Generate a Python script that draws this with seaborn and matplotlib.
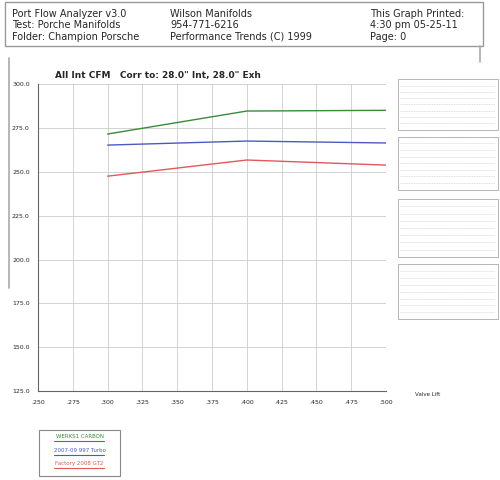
import matplotlib
matplotlib.use("Agg")
import matplotlib.pyplot as plt
import seaborn as sns
import pandas as pd
from matplotlib.patches import Rectangle

lift = [0.300, 0.400, 0.500]
werks = [271.5, 284.6, 285.0]
turbo = [265.2, 267.5, 266.4]
gt2 = [247.5, 256.7, 253.8]
names = ["WERKS1 CARBON", "2007-09 997 Turbo", "Factory 2008 GT2"]
colors = ["#3a8a3a", "#4a5bc0", "#e05a5a"]
xticks = [0.25, 0.275, 0.3, 0.325, 0.35, 0.375, 0.4, 0.425, 0.45, 0.475, 0.5]
yticks = [125, 150, 175, 200, 225, 250, 275, 300]

df = pd.DataFrame({"lift": lift * 3, "cfm": werks + turbo + gt2,
                   "run": sum([[n] * 3 for n in names], [])})

sns.set_style("white")
fig = plt.figure(figsize=(5, 4.8), dpi=100)
ax = fig.add_axes([0.076, 0.185, 0.696, 0.64])
sns.lineplot(data=df, x="lift", y="cfm", hue="run", palette=colors, ax=ax,
             legend=False, linewidth=1)
ax.set_xlim(0.25, 0.5); ax.set_ylim(125, 300)
ax.set_xticks(xticks); ax.set_yticks(yticks)
ax.set_xticklabels([("%.3f" % v)[1:] for v in xticks], fontsize=4.5)
ax.set_yticklabels(["%.1f" % v for v in yticks], fontsize=4.5)
ax.tick_params(length=0, pad=6)
ax.grid(True, color="#cccccc", linewidth=0.6)
for s in ["top", "right"]:
    ax.spines[s].set_visible(False)
for s in ["left", "bottom"]:
    ax.spines[s].set_color("#666666"); ax.spines[s].set_linewidth(0.8)
ax.set_xlabel(""); ax.set_ylabel("")
ax.set_title("All Int CFM   Corr to: 28.0\" Int, 28.0\" Exh", fontsize=6.5,
             fontweight="bold", loc="left", x=0.05, pad=4)
fig.text(0.83, 0.175, "Valve Lift", fontsize=4)

# header box
fig.patches.append(Rectangle((0.01, 0.905), 0.955, 0.09, transform=fig.transFigure,
                             fill=False, edgecolor="#999999", linewidth=1))
hdr = [(0.024, ["Port Flow Analyzer v3.0", "Test: Porche Manifolds", "Folder: Champion Porsche"]),
       (0.34, ["Wilson Manifolds", "954-771-6216", "Performance Trends (C) 1999"]),
       (0.74, ["This Graph Printed:", "4:30 pm 05-25-11", "Page: 0"])]
for x, lines in hdr:
    for i, t in enumerate(lines):
        fig.text(x, 0.982 - i * 0.024, t, fontsize=7, va="top")
# outer frame lines
fig.add_artist(plt.Line2D([0.017, 0.017], [0.40, 0.88], color="#aaaaaa", lw=1.2))
fig.add_artist(plt.Line2D([0.96, 0.96], [0.87, 0.905], color="#aaaaaa", lw=1.2))

# side boxes
for y0, h in [(0.73, 0.105), (0.605, 0.11), (0.465, 0.12), (0.335, 0.115)]:
    fig.patches.append(Rectangle((0.795, y0), 0.2, h, transform=fig.transFigure,
                                 fill=False, edgecolor="#aaaaaa", linewidth=0.6))
    for k in range(1, 8):
        yy = y0 + h - k * h / 8
        if yy > y0:
            fig.add_artist(plt.Line2D([0.8, 0.99], [yy, yy], color="#cccccc",
                                      lw=0.4, ls=(0, (2, 1))))

# legend box
fig.patches.append(Rectangle((0.078, 0.008), 0.162, 0.097, transform=fig.transFigure,
                             fill=False, edgecolor="#888888", linewidth=0.8))
for i, (n, c) in enumerate(zip(names, colors)):
    y = 0.09 - i * 0.028
    fig.text(0.159, y, n, color=c, fontsize=4, ha="center", va="center")
    fig.add_artist(plt.Line2D([0.108, 0.207], [y - 0.009, y - 0.009], color=c, lw=0.8))

fig.savefig("out.png", dpi=100)
